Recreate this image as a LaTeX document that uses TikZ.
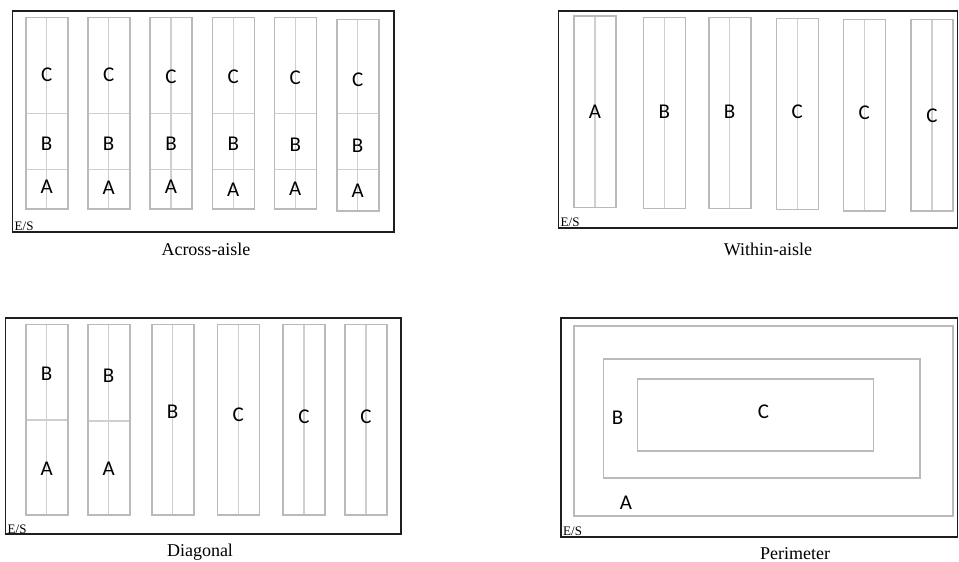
\documentclass[tikz,border=0pt]{standalone}
\usepackage{fontspec}
\setmainfont{Liberation Serif}
\newfontfamily\lblfont{Carlito}
\definecolor{rackgray}{HTML}{BABABA}
\definecolor{midgray}{HTML}{CFCFCF}
\definecolor{boxblack}{HTML}{1E1E1E}
\begin{document}
\begin{tikzpicture}[x=1pt,y=-1pt,
  outerbox/.style={draw=boxblack,line width=1.9pt},
  rackbox/.style={draw=rackgray,line width=1.6pt},
  midline/.style={draw=midgray,line width=1.1pt},
  lbl/.style={font=\lblfont\fontsize{21}{22}\selectfont,inner sep=0pt},
  capt/.style={font=\fontsize{18}{20}\selectfont,inner sep=0pt},
  es/.style={font=\fontsize{13}{14}\selectfont,inner sep=0pt,anchor=south west}]
\useasboundingbox (0,0) rectangle (959,562);
% ===== Panel 1: Across-aisle =====
\draw[outerbox] (12.5,11) rectangle (394,232);
\foreach \xl/\yt/\yb/\cy/\by/\ay [count=\i] in
  {25.7/17.3/209/75/143.5/187, 87.7/17.3/209/75/144/188, 150/17.3/209/77/144/187,
   212.3/17.3/209/77/144/190, 274.3/17.3/209/78/145/189, 336.7/19.3/210.7/80/146/191}{
  \draw[midline] (\xl+21,\yt) -- (\xl+21,\yb);
  \draw[midline] (\xl,113.3) -- (\xl+42,113.3);
  \draw[midline] (\xl,169.6) -- (\xl+42,169.6);
  \draw[rackbox] (\xl,\yt) rectangle (\xl+42,\yb);
  \node[lbl] (p1c\i) at (\xl+21,\cy) {C};
  \node[lbl] (p1b\i) at (\xl+21,\by) {B};
  \node[lbl] (p1a\i) at (\xl+21,\ay) {A};
}
\node[es] (es1) at (14.5,231) {E/S};
\node[capt] (cap1) at (206,249) {Across-aisle};
% ===== Panel 2: Within-aisle =====
\draw[outerbox] (558.5,11) rectangle (957.5,227.7);
\foreach \xl/\yt/\yb/\ly/\t [count=\i] in
  {574/16/207.3/112/A, 643.3/17.3/208.3/112/B, 708.7/17.3/208.3/112/B,
   776.3/18.3/209.3/112/C, 843.3/19.3/210.7/113/C, 911/19.3/210.7/116/C}{
  \draw[midline] (\xl+21,\yt) -- (\xl+21,\yb);
  \draw[rackbox] (\xl,\yt) rectangle (\xl+42,\yb);
  \node[lbl] (p2l\i) at (\xl+21,\ly) {\t};
}
\node[es] (es2) at (560.5,227) {E/S};
\node[capt] (cap2) at (768,249) {Within-aisle};
% ===== Panel 3: Diagonal =====
\draw[outerbox] (5.5,318.3) rectangle (401,534);
\foreach \xl/\dv/\by/\ay [count=\i] in {25.7/420/373.5/468.5, 87.7/421/376/468.5}{
  \draw[midline] (\xl+21,324.3) -- (\xl+21,515);
  \draw[midline] (\xl,\dv) -- (\xl+42,\dv);
  \draw[rackbox] (\xl,324.3) rectangle (\xl+42,515);
  \node[lbl] (p3b\i) at (\xl+21,\by) {B};
  \node[lbl] (p3a\i) at (\xl+21,\ay) {A};
}
\foreach \xl/\ly/\t [count=\i] in {151.7/411.5/B, 217.3/415/C, 283/416.5/C, 345/416.5/C}{
  \draw[midline] (\xl+21,324.3) -- (\xl+21,515);
  \draw[rackbox] (\xl,324.3) rectangle (\xl+42,515);
  \node[lbl] (p3l\i) at (\xl+21,\ly) {\t};
}
\node[es] (es3) at (7.5,533.5) {E/S};
\node[capt] (cap3) at (200,552) {Diagonal};
% ===== Panel 4: Perimeter =====
\draw[outerbox] (561,317.7) rectangle (957.5,536.7);
\draw[rackbox] (574,325.7) rectangle (952.7,515.7);
\draw[rackbox] (603.3,359) rectangle (920,477.7);
\draw[rackbox] (637.3,379) rectangle (873.3,451);
\node[lbl] (p4b) at (617.7,417.5) {B};
\node[lbl] (p4c) at (763.5,411.5) {C};
\node[lbl] (p4a) at (626,503) {A};
\node[es] (es4) at (563,536) {E/S};
\node[capt] (cap4) at (795,554) {Perimeter};
\end{tikzpicture}
\end{document}
